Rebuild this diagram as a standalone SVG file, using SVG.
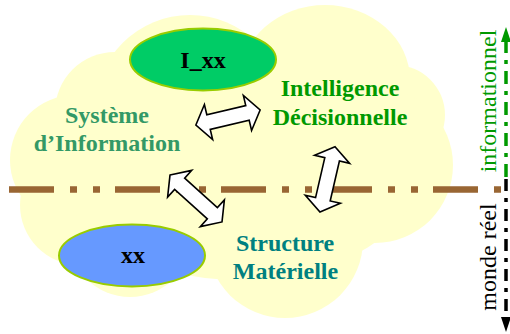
<svg xmlns="http://www.w3.org/2000/svg" width="510" height="334" viewBox="0 0 510 334">
<style>
.cloud{fill:#FFFFCC;stroke:none}
.lbl{font-family:"Liberation Serif","Times New Roman",serif;font-weight:bold;font-size:24px;text-anchor:middle}
.ax{font-family:"Liberation Serif","Times New Roman",serif;font-size:24px;text-anchor:middle}
.ell{stroke:#99CC00;stroke-width:2}
.arr{fill:#FFFFFF;stroke:#000000;stroke-width:1.6;stroke-linejoin:miter}
</style>
<rect width="510" height="334" fill="#FFFFFF"/>
<g id="cloud">
<circle class="cloud" cx="190" cy="110" r="95"/>
<circle class="cloud" cx="115" cy="112" r="60"/>
<circle class="cloud" cx="75" cy="160" r="65"/>
<circle class="cloud" cx="80" cy="205" r="60"/>
<ellipse class="cloud" cx="325" cy="80" rx="85" ry="75"/>
<circle class="cloud" cx="395" cy="115" r="50"/>
<circle class="cloud" cx="375" cy="165" r="78"/>
<circle class="cloud" cx="285" cy="240" r="78"/>
<circle class="cloud" cx="130" cy="235" r="62"/>
<ellipse class="cloud" cx="240" cy="170" rx="180" ry="110"/>
</g>
<g id="separator">
<line x1="9" y1="189.5" x2="501" y2="189.5" stroke="#996633" stroke-width="6.5" stroke-dasharray="45 16 7 16 7 15"/>
</g>
<g id="node-ixx">
<ellipse class="ell" cx="203" cy="59.5" rx="73" ry="31" fill="#00CC66"/>
<text class="lbl" x="203" y="68" fill="#000000">I_xx</text>
</g>
<g id="node-xx">
<ellipse class="ell" cx="132" cy="255.5" rx="73" ry="31" fill="#6699FF"/>
<text class="lbl" x="133" y="263" fill="#000000" font-size="22">xx</text>
</g>
<g id="node-si">
<text class="lbl" x="107" y="123" fill="#339966">Système</text>
<text class="lbl" x="107" y="151" fill="#339966">d’Information</text>
</g>
<g id="node-id">
<text class="lbl" x="340" y="96" fill="#009900">Intelligence</text>
<text class="lbl" x="340" y="124.5" fill="#009900">Décisionnelle</text>
</g>
<g id="node-sm">
<text class="lbl" x="285" y="250.5" fill="#008080">Structure</text>
<text class="lbl" x="285.5" y="279" fill="#008080">Matérielle</text>
</g>
<g id="connectors">
<path class="arr" transform="translate(228,117.5) rotate(-13.2)" d="M -33,0 L -20,-18 L -20,-7.5 L 20,-7.5 L 20,-18 L 33,0 L 20,18 L 20,7.5 L -20,7.5 L -20,18 Z"/>
<path class="arr" transform="translate(196,198.5) rotate(42)" d="M -35,0 L -22,-18 L -22,-7.5 L 22,-7.5 L 22,-18 L 35,0 L 22,18 L 22,7.5 L -22,7.5 L -22,18 Z"/>
<path class="arr" transform="translate(327.5,179.3) rotate(103)" d="M -33.5,0 L -20.5,-18 L -20.5,-7.5 L 20.5,-7.5 L 20.5,-18 L 33.5,0 L 20.5,18 L 20.5,7.5 L -20.5,7.5 L -20.5,18 Z"/>
</g>
<g id="axis">
<line x1="506" y1="40" x2="506" y2="179" stroke="#009900" stroke-width="3.5" stroke-dasharray="13 7 4 7"/>
<polygon points="506,27 501,42 511,42" fill="#009900"/>
<line x1="506" y1="179" x2="506" y2="320" stroke="#000000" stroke-width="3.5" stroke-dasharray="12 7 4 7"/>
<polygon points="506,332 501,317 511,317" fill="#000000"/>
<text class="ax" transform="translate(496,101) rotate(-90)" fill="#009900">informationnel</text>
<text class="ax" transform="translate(496,257) rotate(-90)" fill="#000000">monde réel</text>
</g>
</svg>
